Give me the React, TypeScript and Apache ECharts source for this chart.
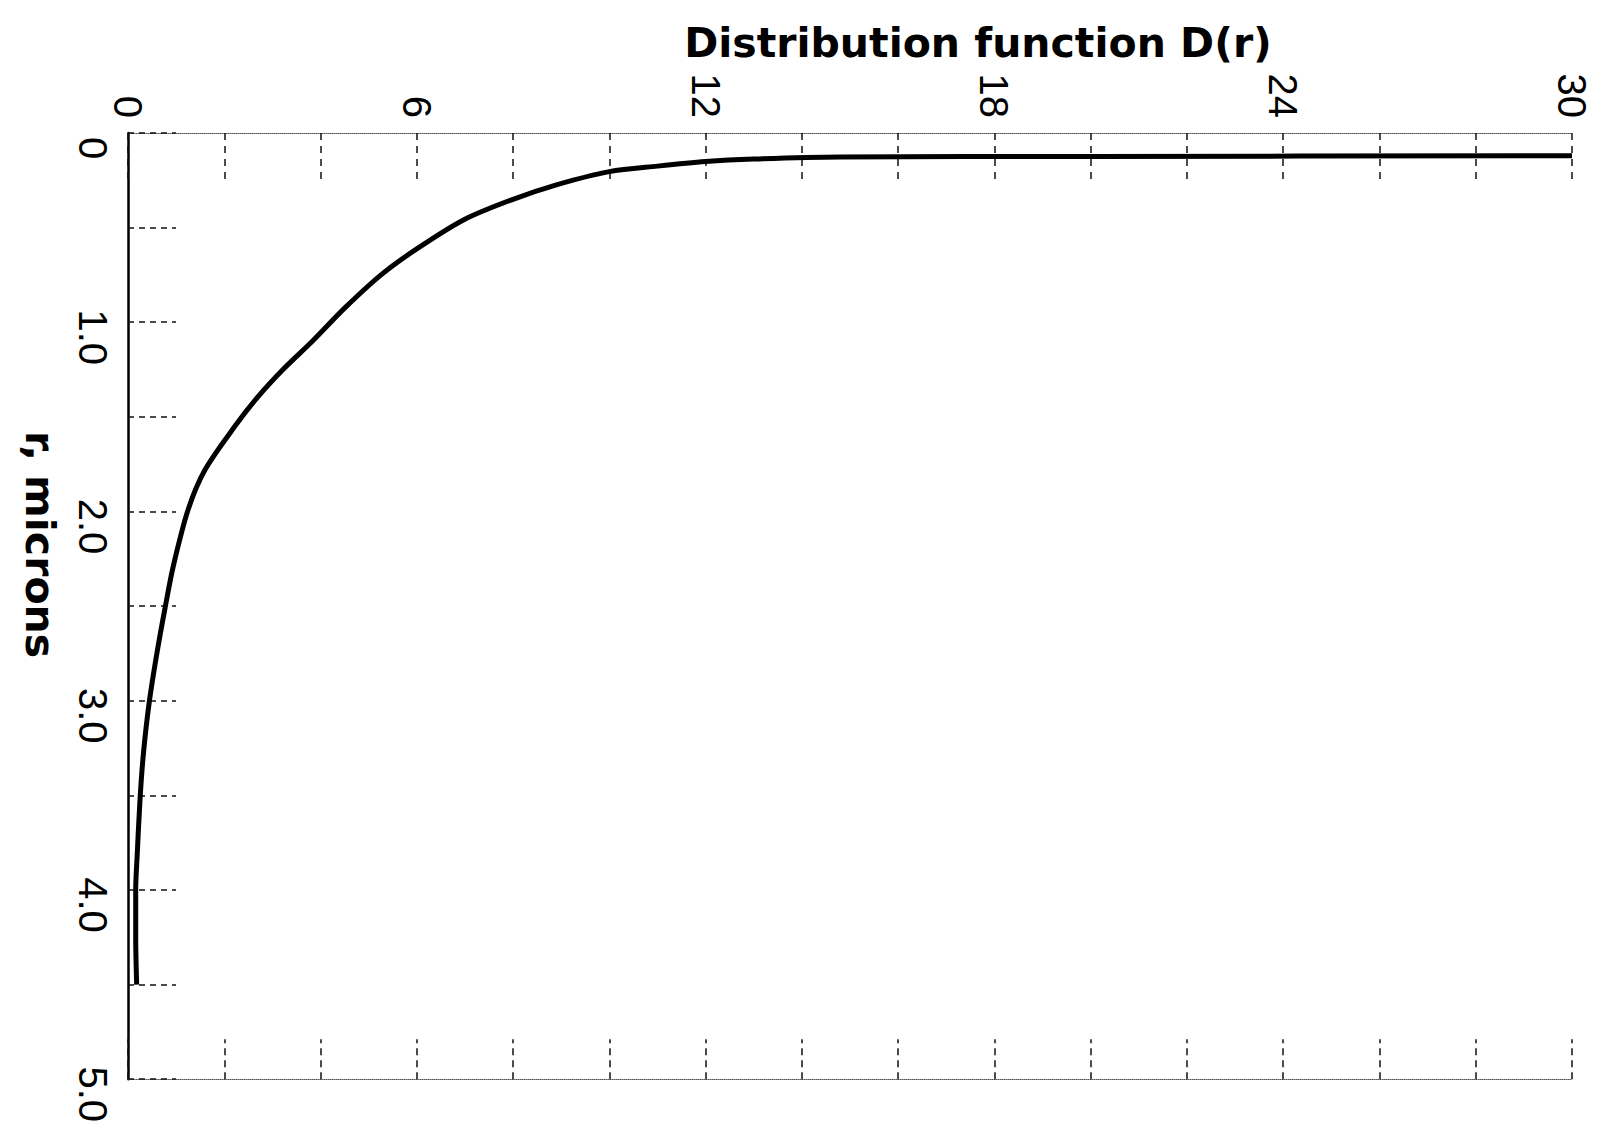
import React, { useEffect, useRef } from "react";
import * as echarts from "echarts";

// r (microns) along the vertical axis, D(r) along the horizontal axis
const rMicrons = [0.12, 0.124, 0.127, 0.138, 0.151, 0.175, 0.204, 0.274, 0.353, 0.458, 0.607, 0.747, 0.923, 1.098, 1.25, 1.4, 1.55, 1.78, 1.99, 2.29, 2.51, 2.75, 3.01, 3.28, 3.52, 3.82, 4.0, 4.25, 4.5];
const distD = [30.0, 20.0, 14.8, 13.0, 12.0, 11.0, 10.0, 8.9, 7.97, 6.98, 6.03, 5.27, 4.51, 3.84, 3.22, 2.68, 2.22, 1.6, 1.25, 0.94, 0.77, 0.6, 0.44, 0.32, 0.25, 0.19, 0.16, 0.16, 0.18];

const xTickLabels = ["0", "6", "12", "18", "24", "30"];
const yTickLabels = ["0", "1.0", "2.0", "3.0", "4.0", "5.0"];

const xTitle = "Distribution function D(r)";
const yTitle = "r, microns";

export default function App() {
  const ref = useRef<HTMLDivElement>(null);
  useEffect(() => {
    if (!ref.current) return;
    const chart = echarts.init(ref.current, null, { renderer: "svg" });
    const labelFont = "Liberation Sans";
    const titleFont = "DejaVu Sans";
    const option: any = {
      animation: false,
      backgroundColor: "#ffffff",
      grid: { left: 128, top: 133, right: 34, bottom: 39, containLabel: false },
      xAxis: [
        {
          type: "value",
          position: "top",
          min: 0,
          max: 30,
          interval: 2,
          name: xTitle,
          nameLocation: "middle",
          nameGap: 70,
          nameTextStyle: {
            fontFamily: titleFont,
            fontWeight: "bold",
            fontSize: 41,
            color: "#000",
            padding: [0, 0, 0, 256],
          },
          axisLine: { show: true, lineStyle: { color: "#555", width: 1, type: "dotted" } },
          axisTick: { show: true, inside: true, length: 48, lineStyle: { color: "#111", width: 1.5, type: [7, 6] } },
          axisLabel: {
            rotate: -90,
            margin: 15,
            fontSize: 40,
            fontFamily: labelFont,
            color: "#000",
            showMinLabel: true,
            showMaxLabel: true,
            formatter: (v: number) => {
              const s = String(v);
              return xTickLabels.indexOf(s) >= 0 ? s : "";
            },
          },
          splitLine: { show: false },
        },
        {
          type: "value",
          position: "bottom",
          min: 0,
          max: 30,
          interval: 2,
          axisLine: { show: true, lineStyle: { color: "#555", width: 1, type: "dotted" } },
          axisTick: { show: true, inside: true, length: 40, lineStyle: { color: "#111", width: 1.5, type: [7, 5] } },
          axisLabel: { show: false },
          splitLine: { show: false },
        },
      ],
      yAxis: {
        type: "value",
        inverse: true,
        min: 0,
        max: 5,
        interval: 0.5,
        name: yTitle,
        nameLocation: "middle",
        nameRotate: -90,
        nameGap: 68,
        nameTextStyle: {
          fontFamily: titleFont,
          fontWeight: "bold",
          fontSize: 41,
          color: "#000",
          padding: [0, 123, 0, 0],
        },
        axisLine: { show: true, lineStyle: { color: "#000", width: 2.5 } },
        axisTick: { show: true, inside: true, length: 48, lineStyle: { color: "#111", width: 1.5, type: [6, 5] } },
        axisLabel: {
          rotate: -90,
          margin: 15,
          fontSize: 40,
          fontFamily: labelFont,
          color: "#000",
          padding: [0, 0, 0, 30],
          showMinLabel: true,
          showMaxLabel: true,
          formatter: (v: number) => {
            const s = v === 0 ? "0" : v.toFixed(1);
            return yTickLabels.indexOf(s) >= 0 ? s : "";
          },
        },
        splitLine: { show: false },
      },
      series: [
        {
          type: "line",
          xAxisIndex: 0,
          data: distD.map((d, i) => [d, rMicrons[i]]),
          showSymbol: false,
          symbol: "none",
          smooth: 0.3,
          lineStyle: { color: "#000", width: 5 },
        },
      ],
    };
    chart.setOption(option);
    return () => chart.dispose();
  }, []);
  return (
    <div
      ref={ref}
      style={{ position: "absolute", left: 0, top: 0, width: 1606, height: 1125, background: "#fff" }}
    />
  );
}
